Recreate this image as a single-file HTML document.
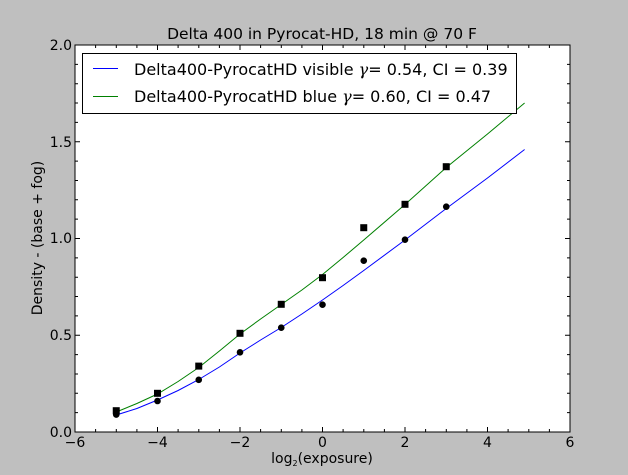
<!DOCTYPE html>
<html><head><meta charset="utf-8"><style>
html,body{margin:0;padding:0;background:#bfbfbf;}
svg{display:block;font-family:"DejaVu Sans","Liberation Sans",sans-serif;}
</style></head><body>
<svg width="628" height="475" viewBox="0 0 628 475" xmlns="http://www.w3.org/2000/svg">
<rect width="628" height="475" fill="#bfbfbf"/>
<rect x="75" y="45" width="495" height="387" fill="#fff"/>
<text x="322" y="39" font-size="15.5" text-anchor="middle" fill="#000">Delta 400 in Pyrocat-HD, 18 min @ 70 F</text>
<g stroke="#000" stroke-width="1" fill="none">
<path d="M157.5,432v-5M240,432v-5M322.5,432v-5M405,432v-5M487.5,432v-5M157.5,45v5M240,45v5M322.5,45v5M405,45v5M487.5,45v5"/>
<path d="M95.6,432v-3M116.3,432v-3M136.9,432v-3M178.1,432v-3M198.8,432v-3M219.4,432v-3M260.6,432v-3M281.3,432v-3M301.9,432v-3M343.1,432v-3M363.8,432v-3M384.4,432v-3M425.6,432v-3M446.3,432v-3M466.9,432v-3M508.1,432v-3M528.8,432v-3M549.4,432v-3
M95.6,45v3M116.3,45v3M136.9,45v3M178.1,45v3M198.8,45v3M219.4,45v3M260.6,45v3M281.3,45v3M301.9,45v3M343.1,45v3M363.8,45v3M384.4,45v3M425.6,45v3M446.3,45v3M466.9,45v3M508.1,45v3M528.8,45v3M549.4,45v3"/>
<path d="M75,335.25h5M75,238.5h5M75,141.75h5M570,335.25h-5M570,238.5h-5M570,141.75h-5"/>
<path d="M75,412.65h3M75,393.3h3M75,373.95h3M75,354.6h3M75,315.9h3M75,296.55h3M75,277.2h3M75,257.85h3M75,219.15h3M75,199.8h3M75,180.45h3M75,161.1h3M75,122.4h3M75,103.05h3M75,83.7h3M75,64.35h3
M570,412.65h-3M570,393.3h-3M570,373.95h-3M570,354.6h-3M570,315.9h-3M570,296.55h-3M570,277.2h-3M570,257.85h-3M570,219.15h-3M570,199.8h-3M570,180.45h-3M570,161.1h-3M570,122.4h-3M570,103.05h-3M570,83.7h-3M570,64.35h-3"/>
</g>
<polyline fill="none" stroke="#0000ff" stroke-width="1" points="116.25,415 136.9,408.5 157.5,400 178.1,390.5 198.75,379.5 219.4,367 240,353 260.6,340 281.25,327.5 301.9,314 322.5,300 343.1,285.5 363.75,270.5 405,240 446.25,208.5 487.5,178 524.6,149.5"/>
<polyline fill="none" stroke="#008000" stroke-width="1" points="116.25,412 136.9,403.5 157.5,394 178.1,381.5 198.75,367.5 219.4,351 240,334 260.6,319 281.25,304.5 301.9,290 322.5,274.5 343.1,257.5 363.75,240 405,204.5 446.25,167.5 487.5,134 524.6,103"/>
<g fill="#000">
<circle cx="116.25" cy="414.6" r="3.3"/><circle cx="157.5" cy="401" r="3.3"/><circle cx="198.75" cy="379.8" r="3.3"/><circle cx="240" cy="352.3" r="3.3"/><circle cx="281.25" cy="327.7" r="3.3"/><circle cx="322.5" cy="304.7" r="3.3"/><circle cx="363.75" cy="260.7" r="3.3"/><circle cx="405" cy="239.7" r="3.3"/><circle cx="446.25" cy="206.7" r="3.3"/>
<rect x="112.75" y="407.2" width="7" height="7"/><rect x="154" y="389.8" width="7" height="7"/><rect x="195.25" y="362.6" width="7" height="7"/><rect x="236.5" y="329.8" width="7" height="7"/><rect x="277.75" y="300.8" width="7" height="7"/><rect x="319" y="274.2" width="7" height="7"/><rect x="360.25" y="224.2" width="7" height="7"/><rect x="401.5" y="200.8" width="7" height="7"/><rect x="442.75" y="163.2" width="7" height="7"/>
</g>
<rect x="75" y="45" width="495" height="387" fill="none" stroke="#000" stroke-width="1"/>
<rect x="82.5" y="53.5" width="434" height="60" fill="#fff" stroke="#000" stroke-width="1"/>
<line x1="93" y1="68.5" x2="118" y2="68.5" stroke="#0000ff"/>
<line x1="93" y1="96.5" x2="118" y2="96.5" stroke="#008000"/>
<text x="134" y="75" font-size="16" fill="#000">Delta400-PyrocatHD visible <tspan font-family="DejaVu Serif,serif" font-style="italic">γ</tspan>= 0.54, CI = 0.39</text>
<text x="134" y="102" font-size="16" fill="#000">Delta400-PyrocatHD blue <tspan font-family="DejaVu Serif,serif" font-style="italic">γ</tspan>= 0.60, CI = 0.47</text>
<g font-size="14" fill="#000" text-anchor="middle">
<text x="75" y="447">−6</text><text x="157.5" y="447">−4</text><text x="240" y="447">−2</text><text x="322.5" y="447">0</text><text x="405" y="447">2</text><text x="487.5" y="447">4</text><text x="570" y="447">6</text>
</g>
<g font-size="14" fill="#000" text-anchor="end">
<text x="72" y="437">0.0</text><text x="72" y="340">0.5</text><text x="72" y="243">1.0</text><text x="72" y="147">1.5</text><text x="72" y="50">2.0</text>
</g>
<text x="322" y="463" font-size="14" text-anchor="middle" fill="#000">log<tspan font-size="8" dy="3">2</tspan><tspan dy="-3">(exposure)</tspan></text>
<text transform="translate(42,238) rotate(-90)" font-size="14" text-anchor="middle" fill="#000">Density - (base + fog)</text>
</svg>
</body></html>
